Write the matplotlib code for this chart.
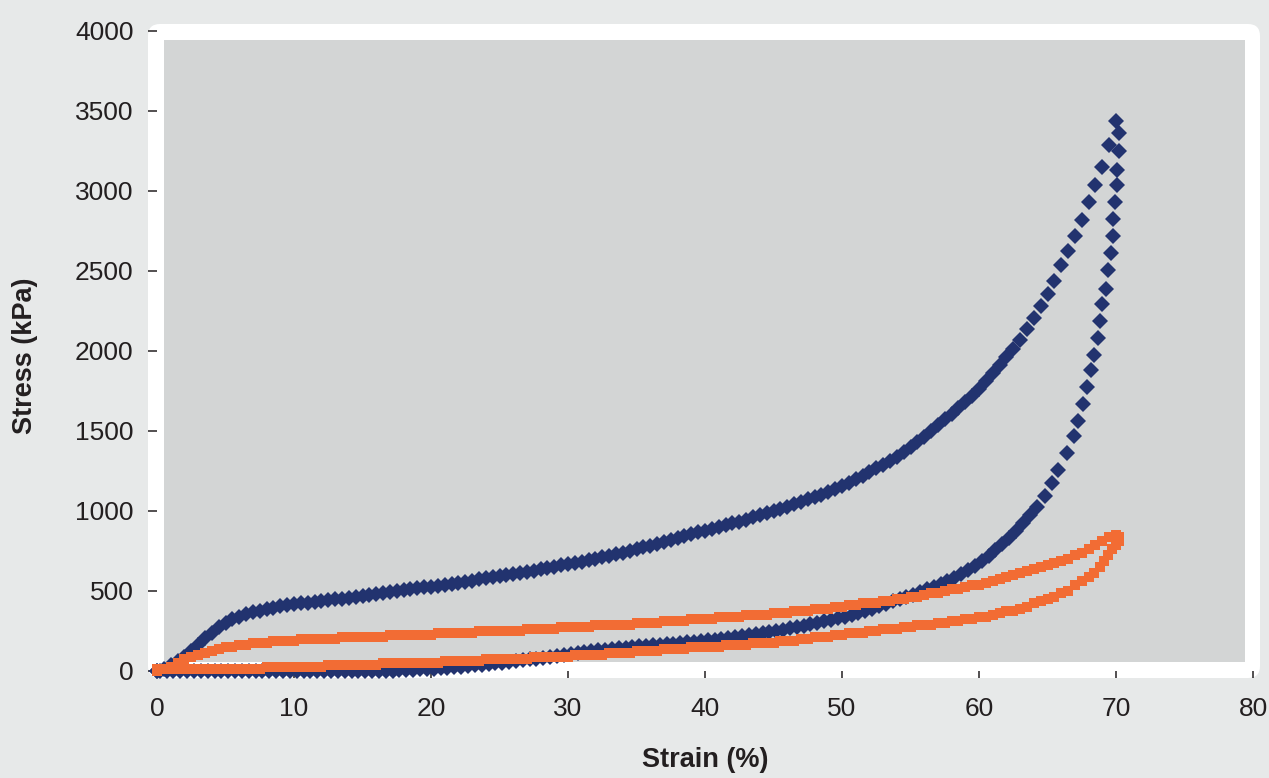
import matplotlib.pyplot as plt
from matplotlib.patches import FancyBboxPatch, Rectangle
from matplotlib.transforms import IdentityTransform

# strain steps of the loading branches (%)
load_strain = [0, 0.5, 1, 1.5, 2, 2.5, 3, 3.5, 4, 4.5, 5, 5.5, 6, 6.5, 7, 7.5, 8, 8.5, 9, 9.5,
               10, 10.5, 11, 11.5, 12, 12.5, 13, 13.5, 14, 14.5, 15, 15.5, 16, 16.5, 17, 17.5, 18, 18.5, 19, 19.5,
               20, 20.5, 21, 21.5, 22, 22.5, 23, 23.5, 24, 24.5, 25, 25.5, 26, 26.5, 27, 27.5, 28, 28.5, 29, 29.5,
               30, 30.5, 31, 31.5, 32, 32.5, 33, 33.5, 34, 34.5, 35, 35.5, 36, 36.5, 37, 37.5, 38, 38.5, 39, 39.5,
               40, 40.5, 41, 41.5, 42, 42.5, 43, 43.5, 44, 44.5, 45, 45.5, 46, 46.5, 47, 47.5, 48, 48.5, 49, 49.5,
               50, 50.5, 51, 51.5, 52, 52.5, 53, 53.5, 54, 54.5, 55, 55.5, 56, 56.5, 57, 57.5, 58, 58.5, 59, 59.5,
               60, 60.5, 61, 61.5, 62, 62.5, 63, 63.5, 64, 64.5, 65, 65.5, 66, 66.5, 67, 67.5, 68, 68.5, 69, 69.5,
               70]

# first cycle (blue), loading
blue_load_stress = [0, 15, 35, 60, 90, 125, 165, 205, 240, 272, 300, 322, 340, 354, 366, 377, 387, 396, 404, 411,
                    417, 423, 428, 433, 438, 443, 448, 453, 458, 463, 468, 474, 480, 486, 492, 498, 504, 510, 516, 522,
                    528, 534, 540, 546, 552, 558, 565, 572, 579, 586, 593, 600, 607, 614, 621, 628, 636, 644, 652, 660,
                    668, 676, 684, 693, 702, 711, 720, 730, 740, 750, 761, 772, 784, 796, 808, 819, 831, 843, 855, 866,
                    877, 888, 899, 911, 922, 934, 946, 960, 973, 987, 1000, 1014, 1028, 1042, 1056, 1072, 1088, 1103, 1118, 1136,
                    1155, 1177, 1200, 1221, 1242, 1266, 1290, 1315, 1340, 1370, 1400, 1432, 1465, 1502, 1540, 1574, 1608, 1642, 1680, 1718,
                    1760, 1810, 1862, 1914, 1965, 2015, 2068, 2135, 2205, 2280, 2355, 2440, 2535, 2625, 2720, 2820, 2930, 3040, 3150, 3285,
                    3440]

# first cycle (blue), unloading
blue_unload_strain = [70.2, 70.2, 70.05, 70.05, 69.9, 69.75, 69.75, 69.6, 69.45, 69.3, 69.0, 68.8, 68.7, 68.4, 68.2,
                      67.9, 67.6, 67.2, 66.9, 66.4, 65.8, 65.3, 64.8, 64.2, 63.7, 63.2, 62.7, 62.2, 61.7, 61.2,
                      60.7, 60.2, 59.7, 59.2, 58.7, 58.2, 57.7, 57.2, 56.7, 56.2, 55.7, 55.2, 54.7, 54.2, 53.7,
                      53.2, 52.7, 52.2, 51.7, 51.2, 50.7, 50.2, 49.7, 49.2, 48.7, 48.2, 47.7, 47.2, 46.7, 46.2,
                      45.7, 45.2, 44.7, 44.2, 43.7, 43.2, 42.7, 42.2, 41.7, 41.2, 40.7, 40.2, 39.7, 39.2, 38.7,
                      38.2, 37.7, 37.2, 36.7, 36.2, 35.7, 35.2, 34.7, 34.2, 33.7, 33.2, 32.7, 32.2, 31.7, 31.2,
                      30.7, 30.2, 29.7, 29.2, 28.7, 28.2, 27.7, 27.2, 26.7, 26.2, 25.7, 25.2, 24.7, 24.2, 23.7,
                      23.2, 22.7, 22.2, 21.7, 21.2, 20.7, 20.2, 19.7, 19.2, 18.7, 18.2, 17.7, 17.2, 16.7, 16.2,
                      15.7, 15.2, 14.7, 14.2, 13.7, 13.2, 12.7, 12.2, 11.7, 11.2, 10.7, 10.2, 9.7, 9.2, 8.7,
                      8.2, 7.7, 7.2, 6.7, 6.2, 5.7, 5.2, 4.7, 4.2, 3.7, 3.2, 2.7, 2.2, 1.7, 1.2, 0.7, 0.2, 0]
blue_unload_stress = [3361, 3252, 3131, 3038, 2933, 2825, 2719, 2610, 2506, 2385, 2294, 2188, 2079, 1975, 1881,
                      1777, 1669, 1565, 1469, 1365, 1256, 1177, 1094, 1027, 975, 925, 872, 830, 795, 755,
                      718, 685, 655, 630, 605, 582, 560, 543, 527, 510, 493, 478, 462, 448, 435,
                      420, 405, 390, 377, 364, 352, 340, 330, 320, 310, 300, 291, 282, 274, 266,
                      259, 252, 245, 238, 231, 225, 218, 212, 206, 201, 196, 191, 187, 183, 179,
                      175, 171, 167, 163, 160, 157, 154, 150, 146, 142, 138, 134, 130, 125, 120,
                      114, 108, 102, 96, 90, 84, 78, 72, 67, 62, 57, 52, 48, 44, 40,
                      36, 32, 28, 24, 21, 18, 15, 12, 10, 8, 6, 4, 3, 2, 1,
                      0, 0, 0, 0, 0, 0, 0, 0, 0, 0, 0, 0, 0, 0, 0,
                      0, 0, 0, 0, 0, 0, 0, 0, 0, 0, 0, 0, 0, 0, 0, 0, 0, 0]

# second cycle (orange), loading
orange_load_stress = [0, 12.5, 25, 50, 75, 87.5, 100, 112.5, 125, 137.5, 150, 150, 162.5, 162.5, 175, 175, 175, 187.5, 187.5, 187.5,
                      187.5, 200, 200, 200, 200, 200, 200, 212.5, 212.5, 212.5, 212.5, 212.5, 212.5, 212.5, 225, 225, 225, 225, 225, 225,
                      225, 237.5, 237.5, 237.5, 237.5, 237.5, 237.5, 250, 250, 250, 250, 250, 250, 250, 262.5, 262.5, 262.5, 262.5, 262.5, 275,
                      275, 275, 275, 275, 287.5, 287.5, 287.5, 287.5, 287.5, 287.5, 300, 300, 300, 300, 312.5, 312.5, 312.5, 312.5, 325, 325,
                      325, 325, 337.5, 337.5, 337.5, 337.5, 350, 350, 350, 350, 362.5, 362.5, 362.5, 375, 375, 375, 387.5, 387.5, 387.5, 400,
                      400, 412.5, 412.5, 425, 425, 425, 437.5, 437.5, 450, 450, 462.5, 462.5, 475, 487.5, 487.5, 500, 512.5, 512.5, 525, 537.5,
                      537.5, 550, 562.5, 575, 587.5, 600, 612.5, 625, 637.5, 650, 662.5, 675, 687.5, 700, 725, 737.5, 762.5, 787.5, 812.5, 837.5,
                      850]

# second cycle (orange), unloading
orange_unload_strain = [70.2, 70.2, 70.0, 69.7, 69.4, 69.1, 68.8, 68.4, 68.0, 67.5, 67.0, 66.5, 66.0, 65.5, 65.0,
                        64.5, 64.0, 63.5, 63.0, 62.5, 62.0, 61.5, 61.0, 60.5, 60.0, 59.5, 59.0, 58.5, 58.0, 57.5,
                        57.0, 56.5, 56.0, 55.5, 55.0, 54.5, 54.0, 53.5, 53.0, 52.5, 52.0, 51.5, 51.0, 50.5, 50.0,
                        49.5, 49.0, 48.5, 48.0, 47.5, 47.0, 46.5, 46.0, 45.5, 45.0, 44.5, 44.0, 43.5, 43.0, 42.5,
                        42.0, 41.5, 41.0, 40.5, 40.0, 39.5, 39.0, 38.5, 38.0, 37.5, 37.0, 36.5, 36.0, 35.5, 35.0,
                        34.5, 34.0, 33.5, 33.0, 32.5, 32.0, 31.5, 31.0, 30.5, 30.0, 29.5, 29.0, 28.5, 28.0, 27.5,
                        27.0, 26.5, 26.0, 25.5, 25.0, 24.5, 24.0, 23.5, 23.0, 22.5, 22.0, 21.5, 21.0, 20.5, 20.0,
                        19.5, 19.0, 18.5, 18.0, 17.5, 17.0, 16.5, 16.0, 15.5, 15.0, 14.5, 14.0, 13.5, 13.0, 12.5,
                        12.0, 11.5, 11.0, 10.5, 10.0, 9.5, 9.0, 8.5, 8.0, 7.5, 7.0, 6.5, 6.0, 5.5, 5.0,
                        4.5, 4.0, 3.5, 3.0, 2.5, 2.0, 1.5, 1.0, 0.5, 0.0]
orange_unload_stress = [837.5, 812.5, 787.5, 762.5, 725, 687.5, 650, 612.5, 587.5, 562.5, 537.5, 500, 487.5, 462.5, 450,
                        437.5, 425, 400, 387.5, 375, 375, 362.5, 350, 337.5, 337.5, 325, 325, 312.5, 312.5, 300,
                        300, 287.5, 287.5, 287.5, 275, 275, 262.5, 262.5, 262.5, 250, 250, 237.5, 237.5, 237.5, 225,
                        225, 212.5, 212.5, 212.5, 200, 200, 187.5, 187.5, 187.5, 175, 175, 175, 175, 162.5, 162.5,
                        162.5, 162.5, 150, 150, 150, 150, 150, 137.5, 137.5, 137.5, 137.5, 125, 125, 125, 125,
                        112.5, 112.5, 112.5, 112.5, 100, 100, 100, 100, 100, 87.5, 87.5, 87.5, 87.5, 87.5, 87.5,
                        75, 75, 75, 75, 75, 75, 75, 62.5, 62.5, 62.5, 62.5, 62.5, 62.5, 50, 50,
                        50, 50, 50, 50, 50, 50, 50, 37.5, 37.5, 37.5, 37.5, 37.5, 37.5, 37.5, 37.5,
                        25, 25, 25, 25, 25, 25, 25, 25, 25, 12.5, 12.5, 12.5, 12.5, 12.5, 12.5,
                        12.5, 12.5, 12.5, 12.5, 12.5, 12.5, 12.5, 12.5, 12.5, 12.5]

x_ticks = [0, 10, 20, 30, 40, 50, 60, 70, 80]
y_ticks = [0, 500, 1000, 1500, 2000, 2500, 3000, 3500, 4000]

blue = '#22336f'
orange = '#f26c34'
text_col = '#231f20'

plt.rcParams['font.family'] = ['Liberation Sans', 'DejaVu Sans']

fig = plt.figure(figsize=(12.69, 7.78), dpi=100, facecolor='#e7e9e9')
ax = fig.add_axes([157 / 1269, 107 / 778, 1096 / 1269, 640 / 778])
ax.set_facecolor('none')

# white rounded frame behind the plot (pixel coords)
frame = FancyBboxPatch((148, 778 - 678), 1112, 654, boxstyle='round,pad=0,rounding_size=12',
                       transform=IdentityTransform(), facecolor='white', edgecolor='none', zorder=0)
fig.add_artist(frame)

# grey plot area
ax.add_patch(Rectangle((7 / 1096, 9 / 640), 1081 / 1096, 622 / 640, transform=ax.transAxes,
                       facecolor='#d3d5d5', edgecolor='none', zorder=0))

ax.plot(load_strain, blue_load_stress, linestyle='none', marker='D', ms=7.9, mew=0, color=blue, zorder=3, clip_on=False)
ax.plot(blue_unload_strain, blue_unload_stress, linestyle='none', marker='D', ms=7.9, mew=0, color=blue, zorder=3, clip_on=False)
ax.plot(load_strain, orange_load_stress, linestyle='none', marker='s', ms=7.3, mew=0, color=orange, zorder=4, clip_on=False)
ax.plot(orange_unload_strain, orange_unload_stress, linestyle='none', marker='s', ms=7.3, mew=0, color=orange, zorder=4, clip_on=False)

ax.set_xlim(0, 80)
ax.set_ylim(0, 4000)
ax.set_xticks(x_ticks)
ax.set_yticks(y_ticks)
for s in ax.spines.values():
    s.set_visible(False)

ax.tick_params(axis='y', direction='out', length=6.5, width=1.1, color=text_col,
               labelsize=19, labelcolor=text_col, pad=10.5)
ax.tick_params(axis='x', direction='out', length=5, width=1.1, color=text_col,
               labelsize=19, labelcolor=text_col, pad=14)

fig.text(705 / 1269, 1 - 760 / 778, 'Strain (%)', ha='center', va='center',
         fontsize=19.5, fontweight='bold', color=text_col)
fig.text(25 / 1269, 1 - 356 / 778, 'Stress (kPa)', ha='center', va='center', rotation=90,
         fontsize=19.5, fontweight='bold', color=text_col)

fig.savefig('out.png', dpi=100, facecolor=fig.get_facecolor())
